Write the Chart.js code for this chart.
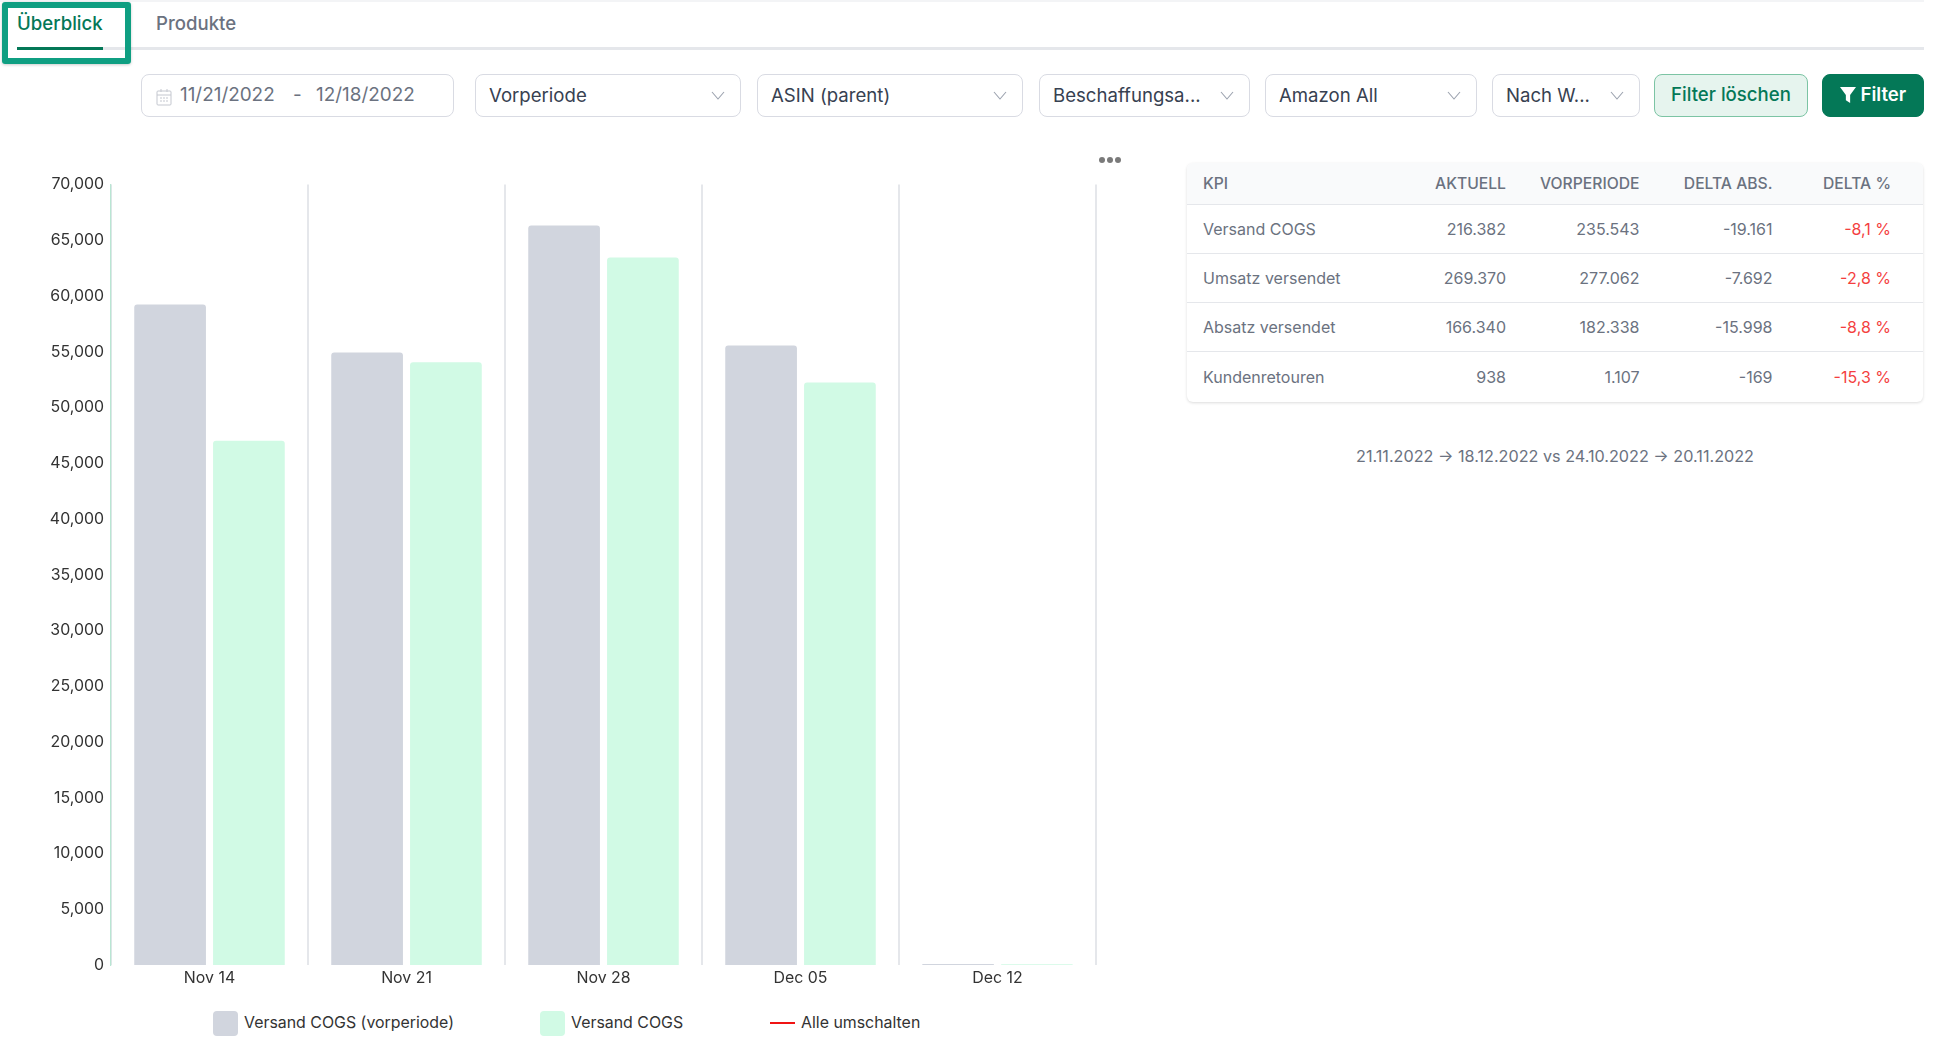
<!DOCTYPE html>
<html lang="de">
<head>
<meta charset="utf-8">
<title>Überblick</title>
<script src="https://cdn.jsdelivr.net/npm/chart.js@4"></script>
<style>
    html, body { margin: 0; padding: 0; background: #fff; overflow: hidden; }
    body { width: 1940px; height: 1052px; position: relative; font-family: Inter, "Noto Sans", sans-serif; color: #374151; }
    .abs { position: absolute; box-sizing: border-box; white-space: nowrap; }
    .topline { left: 0; top: 0; width: 1924px; height: 2px; background: #f3f4f6; }
    .tabline { left: 17px; top: 47px; width: 1907px; height: 3px; background: #e5e7eb; }
    .tabactive { left: 17px; top: 47px; width: 86px; height: 3px; background: #047857; }
    .tab { top: 11px; font-size: 18.6px; line-height: 24px; font-weight: 500; color: #6b7280; }
    .highlight { left: 2px; top: 2px; width: 129px; height: 62px; border: 6px solid #0f9f82; border-radius: 3px; box-shadow: 0 1px 3px rgba(0,0,0,.2); }
    .control { top: 74px; height: 43px; border: 1px solid #d9dbe3; border-radius: 8px; background: #fff; font-size: 18.6px; line-height: 41px; padding-left: 13px; }
    .control svg { position: absolute; right: 15px; top: 13px; }
    .date { color: #6b7280; padding: 0; font-size: 18.9px; }
    .date span { position: absolute; top: -1px; }
    .clear { background: #e6f4ee; border-color: #7cc4a4; color: #047857; font-weight: 500; text-align: center; padding: 0; line-height: 39px; }
    .apply { background: #047857; border-color: #047857; color: #fff; font-weight: 600; text-align: center; padding: 0; line-height: 39px; }
    .dots { left: 1099px; top: 157px; width: 22px; height: 6px; display: flex; justify-content: space-between; }
    .dots i { width: 6px; height: 6px; border-radius: 50%; background: #7a7a7a; }
    #chartBox { left: 0; top: 168px; width: 1120px; height: 832px; }
    #legendBox { left: 213px; top: 1010px; height: 26px; font-size: 15.9px; line-height: 26px; color: #333; }
    .legend-item { position: absolute; top: 0; display: flex; align-items: center; white-space: nowrap; }
    .legend-box { width: 25px; height: 25px; border-radius: 4px; margin-right: 6px; }
    .legend-line { width: 25px; height: 2px; background: #f01414; margin-right: 6px; }
    #kpi { left: 1187px; top: 163px; width: 736px; height: 239px; border-radius: 6px; box-shadow: 0 1px 3px rgba(0,0,0,.14); overflow: hidden; background: #fff; }
    table { border-collapse: separate; border-spacing: 0; width: 736px; table-layout: fixed; font-size: 16px; color: #6b7280; }
    th { box-sizing: border-box; background: #f9fafb; font-weight: 500; font-size: 15.7px; height: 42px; padding: 0; border-bottom: 1px solid #e5e7eb; text-align: right; }
    td { box-sizing: border-box; height: 49px; padding: 0; border-bottom: 1px solid #e5e7eb; text-align: right; font-weight: 400; }
    tr:last-child td { border-bottom: none; }
    th:first-child, td:first-child { text-align: left; padding-left: 16px; }
    th:last-child, td:last-child { padding-right: 32px; }
    td.neg { color: #f43f3f; }
    .caption { left: 1187px; top: 445px; width: 736px; text-align: center; font-size: 16.2px; line-height: 22px; color: #6b7280; }
</style>
</head>
<body>
<div class="abs topline"></div>
<div class="abs tabline"></div>
<div class="abs tabactive"></div>
<div class="abs tab" style="left:17px;color:#047857">Überblick</div>
<div class="abs tab" style="left:156px">Produkte</div>
<div class="abs highlight"></div>

<div class="abs control date" style="left:141px;width:313px">
    <svg style="left:14px;right:auto;top:13px" width="16" height="18" viewBox="0 0 16 18" fill="none" stroke="#c4c7cf"><rect x="1" y="3" width="14" height="14" rx="1"/><path d="M1 7h14M5 1v3M11 1v3M4 10h2M7 10h2M10 10h2M4 13h2M7 13h2M10 13h2"/></svg>
    <span style="left:38px">11/21/2022</span><span style="left:151px">-</span><span style="left:174px">12/18/2022</span>
</div>
<div id="controls"></div>
<div class="abs control clear" style="left:1654px;width:154px">Filter löschen</div>
<div class="abs control apply" style="left:1822px;width:102px">
    <svg style="position:static;vertical-align:-2px" width="16" height="16" viewBox="0 0 15 15"><path d="M0 0h15L9.5 7.5V15l-4-2.5v-5z" fill="#fff"/></svg> Filter
</div>

<div class="abs dots"><i></i><i></i><i></i></div>
<div class="abs" id="chartBox"><canvas id="cogsChart"></canvas></div>
<div class="abs" id="legendBox"></div>

<div class="abs" id="kpi"><table id="kpiTable"></table></div>
<div class="abs caption">21.11.2022 → 18.12.2022 vs 24.10.2022 → 20.11.2022</div>

<script>
const weeks = ['Nov 14', 'Nov 21', 'Nov 28', 'Dec 05', 'Dec 12'];
const cogsPrevious = [59240, 54940, 66320, 55570, 90];
const cogsCurrent = [47030, 54070, 63450, 52250, 60];
const previousLabel = 'Versand COGS (vorperiode)';
const currentLabel = 'Versand COGS';
const toggleLabel = 'Alle umschalten';
const yMax = 70000;
const yStep = 5000;

const kpiHeader = ['KPI', 'AKTUELL', 'VORPERIODE', 'DELTA ABS.', 'DELTA %'];
const kpiNames = ['Versand COGS', 'Umsatz versendet', 'Absatz versendet', 'Kundenretouren'];
const kpiCurrent = ['216.382', '269.370', '166.340', '938'];
const kpiPrevious = ['235.543', '277.062', '182.338', '1.107'];
const kpiDeltaAbs = ['-19.161', '-7.692', '-15.998', '-169'];
const kpiDeltaPct = ['-8,1 %', '-2,8 %', '-8,8 %', '-15,3 %'];
const kpiColWidths = [200, 119, 133.5, 133, 150.5];

const selects = [
    ['Vorperiode', 475, 266],
    ['ASIN (parent)', 757, 266],
    ['Beschaffungsa...', 1039, 211],
    ['Amazon All', 1265, 212],
    ['Nach W...', 1492, 148]
];

const GREY = '#d1d5de';
const MINT = '#d1fae5';
const chevron = '<svg width="14" height="14" viewBox="0 0 14 14" fill="none" stroke="#9ca3af" stroke-width="1.1"><path d="M1 4l6 7 6-7"/></svg>';

document.getElementById('controls').innerHTML = selects.map(s =>
    `<div class="abs control" style="left:${s[1]}px;width:${s[2]}px">${s[0]}${chevron}</div>`).join('');

let rows = '<colgroup>' + kpiColWidths.map(w => `<col style="width:${w}px">`).join('') + '</colgroup>';
rows += '<tr>' + kpiHeader.map(h => `<th>${h}</th>`).join('') + '</tr>';
kpiNames.forEach((name, i) => {
    rows += `<tr><td>${name}</td><td>${kpiCurrent[i]}</td><td>${kpiPrevious[i]}</td><td>${kpiDeltaAbs[i]}</td><td class="neg">${kpiDeltaPct[i]}</td></tr>`;
});
document.getElementById('kpiTable').innerHTML = rows;

const chart = new Chart(document.getElementById('cogsChart').getContext('2d'), {
    type: 'bar',
    data: {
        labels: weeks,
        datasets: [
            { label: previousLabel, data: cogsPrevious, backgroundColor: GREY },
            { label: currentLabel, data: cogsCurrent, backgroundColor: MINT }
        ]
    },
    options: {
        responsive: true,
        maintainAspectRatio: false,
        animation: false,
        layout: { padding: { top: 15, right: 24, left: 0, bottom: 0 } },
        datasets: {
            bar: {
                categoryPercentage: 0.8,
                barPercentage: 0.91,
                borderRadius: { topLeft: 3, topRight: 3 },
                borderSkipped: 'bottom'
            }
        },
        plugins: {
            legend: { display: false }
        },
        scales: {
            x: {
                afterFit: scale => { scale.height = 35; },
                grid: { color: '#e5e7eb', lineWidth: 2, drawTicks: false },
                border: { display: false },
                ticks: { color: '#333', padding: 4, font: { family: 'Inter', size: 15.9 } }
            },
            y: {
                min: 0,
                max: yMax,
                afterFit: scale => { scale.width = 111; },
                grid: { display: false, drawTicks: false },
                border: { color: '#b9e6d3', width: 1.2 },
                ticks: {
                    stepSize: yStep,
                    color: '#333',
                    padding: 7,
                    font: { family: 'Inter', size: 15.9 },
                    callback: v => v.toLocaleString('en-US')
                }
            }
        }
    }
});

// html legend so the items can sit as far apart as the original
const legendBox = document.getElementById('legendBox');
const legendItems = chart.data.datasets.map(ds => ({ text: ds.label, color: ds.backgroundColor }));
legendItems.push({ text: toggleLabel, line: true });
const legendLefts = [0, 327, 557];
legendItems.forEach((item, i) => {
    const el = document.createElement('div');
    el.className = 'legend-item';
    el.style.left = legendLefts[i] + 'px';
    const mark = item.line ? '<span class="legend-line"></span>' : `<span class="legend-box" style="background:${item.color}"></span>`;
    el.innerHTML = mark + '<span>' + item.text + '</span>';
    legendBox.appendChild(el);
});
</script>
</body>
</html>
